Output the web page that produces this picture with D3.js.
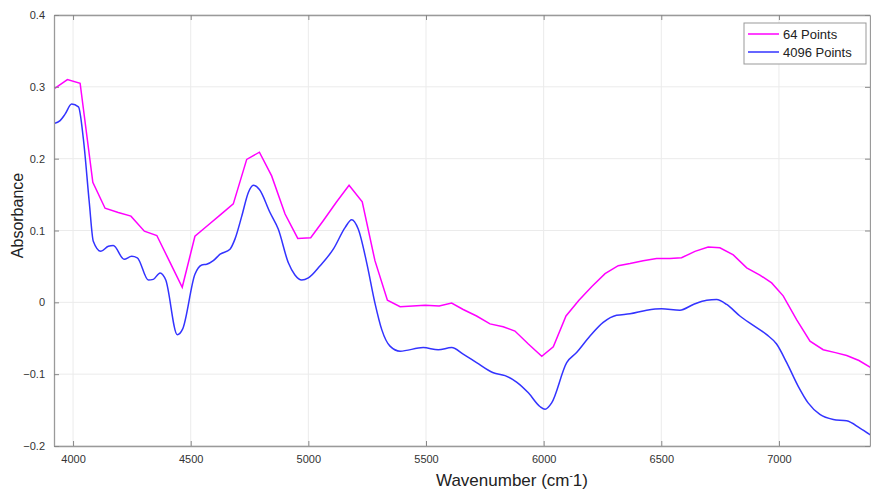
<!DOCTYPE html>
<html>
<head>
<meta charset="utf-8">
<script src="https://cdn.jsdelivr.net/npm/d3@7"></script>
<style>
  body { margin: 0; background: #fff; }
  svg { font-family: "Liberation Sans", Arial, Helvetica, sans-serif; }
</style>
</head>
<body>
<svg width="871" height="490"></svg>
<script>
// 64 point spectrum (wavenumber, absorbance)
const wave64 = [3919, 3976, 4030, 4084, 4136, 4192, 4246, 4303, 4356, 4410, 4464, 4518, 4572, 4627, 4681,
    4738, 4792, 4844, 4901, 4955, 5010, 5064, 5118, 5173, 5229, 5283, 5336, 5390, 5443, 5496, 5556, 5609,
    5658, 5715, 5772, 5828, 5878, 5935, 5992, 6041, 6095, 6150, 6205, 6261, 6317, 6367, 6423, 6480, 6537,
    6586, 6643, 6699, 6749, 6806, 6863, 6919, 6969, 7018, 7075, 7132, 7188, 7240, 7288, 7340, 7391];
const abs64 = [0.297, 0.310, 0.305, 0.167, 0.131, 0.125, 0.120, 0.099, 0.093, 0.057, 0.021, 0.092, 0.107,
    0.122, 0.137, 0.199, 0.209, 0.176, 0.123, 0.089, 0.090, 0.114, 0.139, 0.163, 0.140, 0.058, 0.003, -0.006,
    -0.005, -0.004, -0.005, -0.001, -0.010, -0.019, -0.030, -0.034, -0.040, -0.058, -0.075, -0.062, -0.019,
    0.003, 0.022, 0.040, 0.051, 0.054, 0.058, 0.061, 0.061, 0.062, 0.071, 0.077, 0.076, 0.066, 0.048, 0.038,
    0.027, 0.009, -0.024, -0.054, -0.066, -0.070, -0.074, -0.081, -0.091];

// 4096 point spectrum
const wave4096 = [3919, 3945, 3966, 3994, 4023, 4044, 4069, 4086, 4118, 4150, 4171, 4217, 4249, 4273, 4320,
    4341, 4370, 4394, 4443, 4466, 4518, 4547, 4568, 4596, 4625, 4667, 4688, 4717, 4745, 4766, 4792, 4837,
    4872, 4915, 4943, 4972, 5000, 5050, 5106, 5156, 5184, 5212, 5248, 5283, 5312, 5347, 5390, 5488, 5552,
    5609, 5658, 5715, 5786, 5836, 5885, 5935, 5984, 6006, 6034, 6098, 6140, 6197, 6253, 6310, 6367, 6438,
    6501, 6579, 6636, 6693, 6735, 6778, 6834, 6891, 6948, 6990, 7033, 7082, 7124, 7174, 7231, 7288, 7344, 7391];
const abs4096 = [0.249, 0.253, 0.262, 0.276, 0.272, 0.227, 0.139, 0.085, 0.071, 0.078, 0.079, 0.060, 0.064,
    0.062, 0.031, 0.032, 0.041, 0.031, -0.045, -0.037, 0.039, 0.052, 0.053, 0.058, 0.067, 0.074, 0.088, 0.120,
    0.153, 0.163, 0.157, 0.125, 0.102, 0.055, 0.038, 0.031, 0.034, 0.051, 0.074, 0.104, 0.115, 0.102, 0.055,
    -0.001, -0.038, -0.061, -0.068, -0.063, -0.066, -0.063, -0.072, -0.084, -0.098, -0.102, -0.111, -0.126,
    -0.145, -0.149, -0.140, -0.084, -0.070, -0.047, -0.028, -0.018, -0.016, -0.011, -0.009, -0.011, -0.003,
    0.003, 0.004, -0.003, -0.019, -0.032, -0.045, -0.058, -0.084, -0.117, -0.140, -0.156, -0.163, -0.165,
    -0.175, -0.185];

const xTicks = [4000, 4500, 5000, 5500, 6000, 6500, 7000];
const yTicks = [-0.2, -0.1, 0, 0.1, 0.2, 0.3, 0.4];
const seriesNames = ["64 Points", "4096 Points"];
const seriesColors = ["#ff00ff", "#3333ff"];

const margin = {top: 15, right: 1, bottom: 44, left: 54};
const W = 871, H = 490;
const w = W - margin.left - margin.right,
      h = H - margin.top - margin.bottom;

const svg = d3.select("svg");
const g = svg.append("g").attr("transform", `translate(${margin.left},${margin.top})`);

const x = d3.scaleLinear().domain([3919, 7387]).range([0, w]);
const y = d3.scaleLinear().domain([-0.2, 0.4]).range([h, 0]);

// grid
g.append("g").selectAll("line").data(xTicks).enter().append("line")
    .attr("x1", d => x(d)).attr("x2", d => x(d))
    .attr("y1", 0).attr("y2", h)
    .attr("stroke", "#ebebeb").attr("stroke-width", 1);
g.append("g").selectAll("line").data(yTicks).enter().append("line")
    .attr("x1", 0).attr("x2", w)
    .attr("y1", d => y(d)).attr("y2", d => y(d))
    .attr("stroke", "#ebebeb").attr("stroke-width", 1);

// lines
const data64 = wave64.map((d, i) => [d, abs64[i]]);
const data4096 = wave4096.map((d, i) => [d, abs4096[i]]);

g.append("defs").append("clipPath").attr("id", "clip")
    .append("rect").attr("width", w).attr("height", h);

const lineLin = d3.line().x(d => x(d[0])).y(d => y(d[1]));
const lineSmooth = d3.line().x(d => x(d[0])).y(d => y(d[1])).curve(d3.curveMonotoneX);

g.append("path").datum(data64)
    .attr("clip-path", "url(#clip)")
    .attr("fill", "none").attr("stroke", seriesColors[0]).attr("stroke-width", 1.5)
    .attr("d", lineLin);
g.append("path").datum(data4096)
    .attr("clip-path", "url(#clip)")
    .attr("fill", "none").attr("stroke", seriesColors[1]).attr("stroke-width", 1.5)
    .attr("d", lineSmooth);

// axes (MATLAB style, ticks inward)
const axisColor = "#9a9a9a";
const xAxis = g.append("g").attr("transform", `translate(0,${h})`)
    .call(d3.axisBottom(x).tickValues(xTicks).tickSizeInner(-5).tickSizeOuter(0).tickPadding(9)
        .tickFormat(d3.format("d")));
const xTop = g.append("g")
    .call(d3.axisTop(x).tickValues(xTicks).tickSizeInner(-5).tickSizeOuter(0).tickFormat(""));
const yAxis = g.append("g")
    .call(d3.axisLeft(y).tickValues(yTicks).tickSizeInner(-5).tickSizeOuter(0).tickPadding(9)
        .tickFormat(d => d === 0 ? "0" : d3.format(".1f")(d)));
const yRight = g.append("g").attr("transform", `translate(${w},0)`)
    .call(d3.axisRight(y).tickValues(yTicks).tickSizeInner(-5).tickSizeOuter(0).tickFormat(""));

[xAxis, xTop, yAxis, yRight].forEach(a => {
    a.select(".domain").attr("stroke", axisColor).attr("stroke-width", 1.3);
    a.selectAll(".tick line").attr("stroke", "#888");
    a.selectAll(".tick text").attr("fill", "#333").attr("font-size", "11px")
        .attr("font-family", "'Liberation Sans', Arial, sans-serif");
});

// labels
const xLab = svg.append("text")
    .attr("x", margin.left + w / 2 + 50).attr("y", 486)
    .attr("text-anchor", "middle").attr("font-size", "17px").attr("fill", "#222");
xLab.append("tspan").text("Wavenumber (cm");
xLab.append("tspan").attr("dy", -7).attr("font-size", "10px").text("-");
xLab.append("tspan").attr("dy", 7).text("1)");
svg.append("text")
    .attr("transform", `translate(23,${margin.top + h / 2 - 15}) rotate(-90)`)
    .attr("text-anchor", "middle").attr("font-size", "16px").attr("fill", "#222")
    .text("Absorbance");

// legend
const leg = svg.append("g").attr("transform", "translate(744,23)");
leg.append("rect").attr("width", 122).attr("height", 41)
    .attr("fill", "#fff").attr("stroke", "#999").attr("stroke-width", 1);
seriesNames.forEach((name, i) => {
    leg.append("line").attr("x1", 4).attr("x2", 35)
        .attr("y1", 11 + i * 18).attr("y2", 11 + i * 18)
        .attr("stroke", seriesColors[i]).attr("stroke-width", 1.5);
    leg.append("text").attr("x", 39).attr("y", 11 + i * 18)
        .attr("dy", "0.35em").attr("font-size", "13px").attr("fill", "#222")
        .text(name);
});
</script>
</body>
</html>
